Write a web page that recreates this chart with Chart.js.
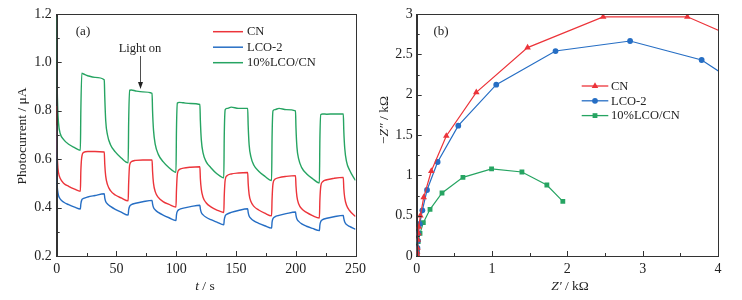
<!DOCTYPE html>
<html>
<head>
<meta charset="utf-8">
<script src="https://cdn.jsdelivr.net/npm/chart.js@4.4.0/dist/chart.umd.min.js"></script>
<style>
body { margin: 0; background: #fff; }
#wrap { position: relative; width: 742px; height: 300px; }
canvas { position: absolute; top: 0; }
</style>
</head>
<body>
<div id="wrap">
	<canvas id="chartA" width="371" height="300" style="left:0"></canvas>
	<canvas id="chartB" width="371" height="300" style="left:371px"></canvas>
</div>
<script>
// (a) photocurrent vs time, light on 20-40, 60-80, ... s
let times = [
	0, 0.3, 0.8, 1.5, 3, 6, 10, 15, 19.8,
	20.2, 21, 22.5, 26, 32, 39.8, 40.2, 41, 42.5, 45, 49, 54, 59.8,
	60.2, 61, 62.5, 66, 72, 79.8, 80.2, 81, 82.5, 85, 89, 94, 99.8,
	100.2, 101, 102.5, 106, 112, 119.8, 120.2, 121, 122.5, 125, 129, 134, 139.8,
	140.2, 141, 142.5, 146, 152, 159.8, 160.2, 161, 162.5, 165, 169, 174, 179.8,
	180.2, 181, 182.5, 186, 192, 199.8, 200.2, 201, 202.5, 205, 209, 214, 219.8,
	220.2, 221, 222.5, 226, 232, 239.8, 240.2, 241, 242.5, 245, 250
];

let cnCurrent = [
	0.82, 0.66, 0.58, 0.545, 0.52, 0.50, 0.488, 0.476, 0.467,
	0.55, 0.61, 0.628, 0.632, 0.632, 0.63, 0.58, 0.53, 0.495, 0.47, 0.452, 0.44, 0.428,
	0.50, 0.575, 0.59, 0.595, 0.597, 0.597, 0.55, 0.50, 0.465, 0.442, 0.425, 0.413, 0.402,
	0.47, 0.54, 0.557, 0.563, 0.567, 0.569, 0.52, 0.475, 0.442, 0.42, 0.403, 0.39, 0.38,
	0.45, 0.515, 0.532, 0.539, 0.543, 0.545, 0.50, 0.455, 0.425, 0.405, 0.39, 0.377, 0.366,
	0.435, 0.50, 0.517, 0.524, 0.529, 0.532, 0.49, 0.445, 0.415, 0.395, 0.38, 0.367, 0.357,
	0.43, 0.49, 0.507, 0.515, 0.521, 0.525, 0.48, 0.44, 0.41, 0.388, 0.363
];

let lcoCurrent = [
	0.74, 0.52, 0.47, 0.45, 0.435, 0.422, 0.412, 0.402, 0.394,
	0.415, 0.432, 0.438, 0.444, 0.45, 0.457, 0.44, 0.425, 0.415, 0.405, 0.393, 0.381, 0.369,
	0.39, 0.405, 0.412, 0.418, 0.424, 0.43, 0.415, 0.40, 0.39, 0.38, 0.369, 0.358, 0.347,
	0.37, 0.385, 0.392, 0.398, 0.404, 0.41, 0.395, 0.38, 0.37, 0.36, 0.35, 0.34, 0.329,
	0.35, 0.366, 0.373, 0.38, 0.388, 0.395, 0.38, 0.365, 0.355, 0.345, 0.335, 0.325, 0.315,
	0.34, 0.355, 0.362, 0.368, 0.375, 0.382, 0.368, 0.353, 0.343, 0.333, 0.323, 0.314, 0.305,
	0.328, 0.343, 0.35, 0.356, 0.362, 0.368, 0.355, 0.34, 0.33, 0.322, 0.31
];

let compCurrent = [
	1.19, 0.95, 0.82, 0.75, 0.705, 0.68, 0.662, 0.648, 0.637,
	0.80, 0.955, 0.952, 0.945, 0.938, 0.928, 0.86, 0.76, 0.70, 0.66, 0.63, 0.605, 0.585,
	0.75, 0.885, 0.886, 0.882, 0.878, 0.872, 0.80, 0.72, 0.66, 0.62, 0.59, 0.565, 0.546,
	0.72, 0.832, 0.835, 0.833, 0.830, 0.826, 0.76, 0.68, 0.625, 0.59, 0.565, 0.54, 0.523,
	0.70, 0.805, 0.81, 0.815, 0.81, 0.81, 0.74, 0.66, 0.61, 0.575, 0.55, 0.53, 0.512,
	0.69, 0.80, 0.805, 0.81, 0.805, 0.80, 0.73, 0.65, 0.60, 0.565, 0.54, 0.52, 0.502,
	0.68, 0.785, 0.787, 0.786, 0.787, 0.787, 0.72, 0.645, 0.59, 0.555, 0.512
];

// (b) Nyquist plots, Z' and -Z'' in kOhm
let cnZre = [0.003, 0.005, 0.01, 0.015, 0.022, 0.027, 0.049, 0.093, 0.194, 0.393, 0.791, 1.472, 2.475, 3.593, 4.4];
let cnZim = [0.02, 0.05, 0.1, 0.2, 0.28, 0.36, 0.5, 0.727, 1.054, 1.488, 2.029, 2.583, 2.965, 2.965, 2.64];

let lcoZre = [0.005, 0.01, 0.015, 0.02, 0.04, 0.075, 0.137, 0.278, 0.552, 1.056, 1.843, 2.833, 3.783, 4.3];
let lcoZim = [0.04, 0.1, 0.19, 0.28, 0.397, 0.566, 0.818, 1.165, 1.616, 2.124, 2.541, 2.665, 2.43, 2.11];

let compZre = [0.005, 0.01, 0.02, 0.044, 0.088, 0.177, 0.336, 0.614, 0.994, 1.397, 1.728, 1.94];
let compZim = [0.03, 0.09, 0.18, 0.281, 0.413, 0.579, 0.781, 0.975, 1.079, 1.041, 0.88, 0.678];

let seriesNames = ["CN", "LCO-2", "10%LCO/CN"];
let lineColors = ["rgb(236,52,58)", "rgb(38,110,196)", "rgb(38,164,98)"];
let markerShapes = ["triangle", "circle", "rect"];

const SERIF = "'Liberation Serif', 'DejaVu Serif', serif";
const AXIS = "#333";

function pairs(xs, ys) {
	let res = [];
	for (let i = 0; i < xs.length; i++) res.push({ x: xs[i], y: ys[i] });
	return res;
}

// draw a list of [text, italic] runs centred on (x, y)
function drawRuns(ctx, runs, x, y, size, rotate) {
	ctx.save();
	ctx.translate(x, y);
	if (rotate) ctx.rotate(-Math.PI / 2);
	let total = 0;
	for (let r of runs) {
		ctx.font = (r[1] ? "italic " : "") + size + "px " + SERIF;
		total += ctx.measureText(r[0]).width;
	}
	let cx = -total / 2;
	ctx.fillStyle = "#222";
	ctx.textBaseline = "middle";
	ctx.textAlign = "left";
	for (let r of runs) {
		ctx.font = (r[1] ? "italic " : "") + size + "px " + SERIF;
		ctx.fillText(r[0], cx, 0);
		cx += ctx.measureText(r[0]).width;
	}
	ctx.restore();
}

function drawTicks(ctx, scale, values, len, vertical) {
	let area = scale.chart.chartArea;
	ctx.beginPath();
	for (let v of values) {
		let p = Math.round(scale.getPixelForValue(v)) + 0.5;
		if (vertical) {
			ctx.moveTo(area.left, p);
			ctx.lineTo(area.left + len, p);
		} else {
			ctx.moveTo(p, area.bottom);
			ctx.lineTo(p, area.bottom - len);
		}
	}
	ctx.stroke();
}

function range(a, b, step) {
	let res = [];
	for (let v = a; v <= b + 1e-9; v += step) res.push(v);
	return res;
}

function framePlugin(opts) {
	return {
		id: "frame",
		afterDraw(chart) {
			let ctx = chart.ctx;
			let a = chart.chartArea;
			ctx.save();
			ctx.strokeStyle = AXIS;
			ctx.lineWidth = 1;
			ctx.strokeRect(Math.round(a.left) + 0.5, Math.round(a.top) + 0.5,
				Math.round(a.right) - Math.round(a.left), Math.round(a.bottom) - Math.round(a.top));
			drawTicks(ctx, chart.scales.x, opts.xMajor, 5, false);
			drawTicks(ctx, chart.scales.x, opts.xMinor, 3, false);
			drawTicks(ctx, chart.scales.y, opts.yMajor, 5, true);
			drawTicks(ctx, chart.scales.y, opts.yMinor, 3, true);
			opts.extra(ctx, chart);
			ctx.restore();
		}
	};
}

function axisOpts(min, max, step, width, height) {
	return {
		type: "linear", min: min, max: max,
		grid: { display: false, drawTicks: false },
		border: { display: true, color: AXIS, width: 1 },
		ticks: { stepSize: step, color: "#222", font: { family: SERIF, size: 14 }, padding: 5 },
		afterFit: (s) => { if (width) s.width = width; if (height) s.height = height; }
	};
}

// ---------- chart (a)
let aData = [cnCurrent, lcoCurrent, compCurrent];
let aSets = [];
for (let i = 0; i < 3; i++) {
	aSets.push({
		label: seriesNames[i],
		data: pairs(times, aData[i]),
		borderColor: lineColors[i],
		borderWidth: 1.4,
		pointRadius: 0,
		cubicInterpolationMode: "monotone",
		fill: false
	});
}

let xA = axisOpts(0, 250, 50, 0, 44);
let yA = axisOpts(0.2, 1.2, 0.2, 56.7, 0);
yA.ticks.callback = (v) => v.toFixed(1);

new Chart(document.getElementById("chartA"), {
	type: "line",
	data: { datasets: aSets },
	options: {
		responsive: false,
		animation: false,
		layout: { padding: { left: 0, right: 13.3, top: 14, bottom: 0 } },
		plugins: { legend: { display: false }, tooltip: { enabled: false } },
		scales: { x: xA, y: yA }
	},
	plugins: [framePlugin({
		xMajor: range(0, 250, 50), xMinor: range(25, 225, 50),
		yMajor: range(0.2, 1.2, 0.2), yMinor: range(0.3, 1.1, 0.2),
		extra: (ctx, chart) => {
			// legend
			for (let i = 0; i < 3; i++) {
				let y = 31.7 + i * 15.5;
				ctx.strokeStyle = lineColors[i];
				ctx.lineWidth = 1.5;
				ctx.beginPath();
				ctx.moveTo(213, y);
				ctx.lineTo(243, y);
				ctx.stroke();
				ctx.fillStyle = "#222";
				ctx.font = "12.5px " + SERIF;
				ctx.textBaseline = "middle";
				ctx.textAlign = "left";
				ctx.fillText(seriesNames[i], 247, y + 0.5);
			}
			drawRuns(ctx, [["(a)", false]], 83, 32, 13);
			drawRuns(ctx, [["Light on", false]], 140, 49, 12.5);
			// arrow
			ctx.strokeStyle = "#222";
			ctx.fillStyle = "#222";
			ctx.lineWidth = 0.8;
			ctx.beginPath();
			ctx.moveTo(140.5, 56);
			ctx.lineTo(140.5, 86);
			ctx.stroke();
			ctx.beginPath();
			ctx.moveTo(140.5, 89);
			ctx.lineTo(138, 82);
			ctx.lineTo(143, 82);
			ctx.closePath();
			ctx.fill();
			drawRuns(ctx, [["Photocurrent / \u03bcA", false]], 22, 136, 13.5, true);
			drawRuns(ctx, [["t", true], [" / s", false]], 205, 286, 13.5);
		}
	})]
});

// ---------- chart (b)
let bX = [cnZre, lcoZre, compZre];
let bY = [cnZim, lcoZim, compZim];
let markerSizes = [3.8, 2.9, 3.4];
let bSets = [];
for (let i = 0; i < 3; i++) {
	bSets.push({
		label: seriesNames[i],
		data: pairs(bX[i], bY[i]),
		borderColor: lineColors[i],
		backgroundColor: lineColors[i],
		borderWidth: 1.2,
		pointStyle: markerShapes[i],
		pointRadius: markerSizes[i],
		pointBorderWidth: 0,
		showLine: true,
		fill: false
	});
}

let xB = axisOpts(0, 4, 1, 0, 44);
let yB = axisOpts(0, 3, 0.5, 45.7, 0);
yB.ticks.padding = 4;
yB.ticks.callback = (v) => String(+v.toFixed(2));

new Chart(document.getElementById("chartB"), {
	type: "scatter",
	data: { datasets: bSets },
	options: {
		responsive: false,
		animation: false,
		layout: { padding: { left: 0, right: 24, top: 14, bottom: 0 } },
		plugins: { legend: { display: false }, tooltip: { enabled: false } },
		scales: { x: xB, y: yB }
	},
	plugins: [framePlugin({
		xMajor: range(0, 4, 1), xMinor: range(0.5, 3.5, 1),
		yMajor: range(0, 3, 0.5), yMinor: range(0.25, 2.75, 0.5),
		extra: (ctx, chart) => {
			for (let i = 0; i < 3; i++) {
				let y = 86 + i * 14.8;
				ctx.strokeStyle = lineColors[i];
				ctx.lineWidth = 1.3;
				ctx.beginPath();
				ctx.moveTo(210.7, y);
				ctx.lineTo(237.3, y);
				ctx.stroke();
				ctx.fillStyle = lineColors[i];
				Chart.helpers.drawPoint(ctx, { pointStyle: markerShapes[i], radius: markerSizes[i], borderWidth: 0 }, 224, y);
				ctx.fillStyle = "#222";
				ctx.font = "12.5px " + SERIF;
				ctx.textBaseline = "middle";
				ctx.textAlign = "left";
				ctx.fillText(seriesNames[i], 240, y + 0.5);
			}
			drawRuns(ctx, [["(b)", false]], 70, 32, 13);
			drawRuns(ctx, [["\u2212", false], ["Z\u2033", true], [" / k\u03a9", false]], 13, 120, 13.5, true);
			drawRuns(ctx, [["Z\u2032", true], [" / k\u03a9", false]], 199, 286, 13.5);
		}
	})]
});
</script>
</body>
</html>
